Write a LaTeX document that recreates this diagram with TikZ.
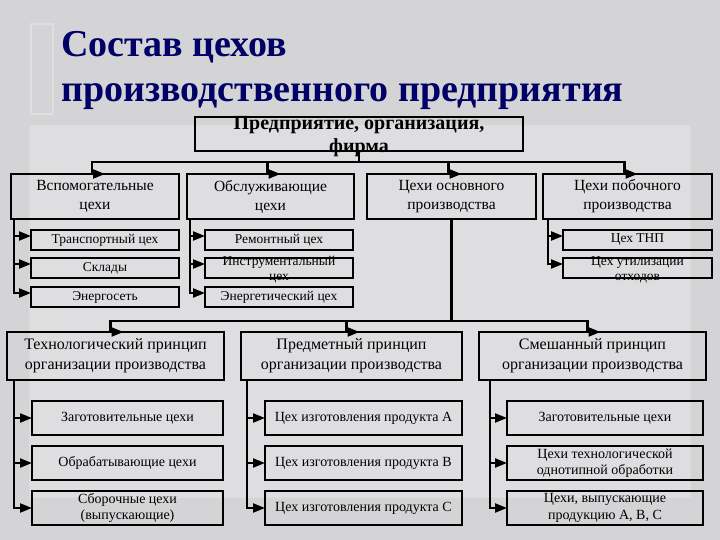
\documentclass[tikz,border=0pt]{standalone}
\usepackage{fontspec}
\setmainfont{Liberation Serif}
\usepackage{tikz}
\usetikzlibrary{calc,arrows.meta}
\definecolor{titre}{RGB}{0,0,102}
\definecolor{fond}{RGB}{212,212,215}
\tikzstyle{tete} = [rectangle, draw=black, line width=2.4pt, outer sep=0pt, inner sep=0pt, anchor=north west, align=center, font=\fontsize{20}{23}\selectfont\bfseries]
\tikzstyle{groupe} = [rectangle, draw=black, line width=2.4pt, outer sep=0pt, inner sep=1pt, anchor=north west, align=center, font=\fontsize{15.5}{19}\selectfont]
\tikzstyle{principe} = [rectangle, draw=black, line width=2.4pt, outer sep=0pt, inner sep=1pt, anchor=north west, align=center, font=\fontsize{16}{20}\selectfont]
\tikzstyle{petit} = [rectangle, draw=black, line width=2.2pt, outer sep=0pt, inner sep=1pt, anchor=north west, align=center, minimum height=20, font=\fontsize{13.5}{15}\selectfont]
\tikzstyle{atelier} = [rectangle, draw=black, line width=2.2pt, outer sep=0pt, inner sep=1pt, anchor=north west, align=center, minimum height=34, font=\fontsize{14}{16.5}\selectfont]
\tikzstyle{trait} = [line width=2.2pt]
\tikzstyle{fleche} = [line width=2.2pt, -{Triangle[length=12pt,width=9pt]}]
\tikzstyle{deco} = [draw=white!75!gray, line width=2pt]
\newcommand{\serre}[2]{\raisebox{#1}[0pt][0pt]{\begin{tabular}{@{}c@{}}#2\end{tabular}}}

\begin{document}
\begin{tikzpicture}[x=1pt, y=-1pt]

        \fill[fond] (0,0) rectangle (720,540);
        \useasboundingbox (0,0) rectangle (720,540);
        \fill[white, opacity=0.25] (30,126) rectangle (690,497);
        \draw[deco, opacity=0.8] (30,126) rectangle (690,497);
        \draw[deco] (31,24) rectangle (53,114);
        \draw[deco] (43,138) rectangle (54,486);

        \node (titre) [anchor=north west, inner sep=0pt, align=left, text=titre, font=\fontsize{38}{45}\selectfont\bfseries] at (61,31) {Состав цехов\\производственного предприятия};

        \node (T) [tete, minimum width=328, minimum height=34] at (195,117) {\serre{-8pt}{Предприятие, организация,\\фирма}};

        \node (A1) [groupe, minimum width=168, minimum height=45] at (11,174) {Вспомогательные\\цехи};
        \node (A2) [groupe, minimum width=167, minimum height=45] at (187,174) {Обслуживающие\\цехи};
        \node (A3) [groupe, minimum width=169, minimum height=45] at (367,174) {Цехи основного\\производства};
        \node (A4) [groupe, minimum width=169, minimum height=45] at (543,174) {Цехи побочного\\производства};

        \node (A11) [petit, minimum width=148] at (31,230) {Транспортный цех};
        \node (A12) [petit, minimum width=148] at (31,258) {Склады};
        \node (A13) [petit, minimum width=148] at (31,287) {Энергосеть};

        \node (A21) [petit, minimum width=148] at (205,230) {Ремонтный цех};
        \node (A22) [petit, minimum width=148] at (205,258) {\serre{-5.5pt}{Инструментальный\\цех}};
        \node (A23) [petit, minimum width=148] at (205,287) {Энергетический цех};

        \node (A41) [petit, minimum width=149] at (563,230) {Цех ТНП};
        \node (A42) [petit, minimum width=149] at (563,258) {\serre{-5.5pt}{Цех утилизации\\отходов}};

        \node (B1) [principe, minimum width=217, minimum height=48] at (7,332) {Технологический принцип\\организации производства};
        \node (B2) [principe, minimum width=221, minimum height=48] at (241,332) {Предметный принцип\\организации производства};
        \node (B3) [principe, minimum width=227, minimum height=48] at (479,332) {Смешанный принцип\\организации производства};

        \node (B11) [atelier, minimum width=191] at (32,401) {Заготовительные цехи};
        \node (B12) [atelier, minimum width=191] at (32,446) {Обрабатывающие цехи};
        \node (B13) [atelier, minimum width=191] at (32,491) {Сборочные цехи\\(выпускающие)};

        \node (B21) [atelier, minimum width=197] at (265,401) {Цех изготовления продукта А};
        \node (B22) [atelier, minimum width=197] at (265,446) {Цех изготовления продукта В};
        \node (B23) [atelier, minimum width=197] at (265,491) {Цех изготовления продукта С};

        \node (B31) [atelier, minimum width=196] at (507,401) {Заготовительные цехи};
        \node (B32) [atelier, minimum width=196] at (507,446) {Цехи технологической\\однотипной обработки};
        \node (B33) [atelier, minimum width=196] at (507,491) {Цехи, выпускающие\\продукцию А, В, С};


        \draw[trait] (T.south) -- ++(0,11) coordinate (t1);
        \draw[fleche] (t1) -| ([xshift=-3pt]A1.north) -- ++(13,0);
        \draw[fleche] (t1) -| ([xshift=-3pt]A2.north) -- ++(13,0);
        \draw[fleche] (t1) -| ([xshift=-3pt]A3.north) -- ++(13,0);
        \draw[fleche] (t1) -| ([xshift=-3pt]A4.north) -- ++(13,0);

        \draw[fleche] ([xshift=3pt]A1.south west) |- ([yshift=4pt]A11.west);
        \draw[fleche] ([xshift=3pt]A1.south west) |- ([yshift=4pt]A12.west);
        \draw[fleche] ([xshift=3pt]A1.south west) |- ([yshift=4pt]A13.west);

        \draw[fleche] ([xshift=3pt]A2.south west) |- ([yshift=4pt]A21.west);
        \draw[fleche] ([xshift=3pt]A2.south west) |- ([yshift=4pt]A22.west);
        \draw[fleche] ([xshift=3pt]A2.south west) |- ([yshift=4pt]A23.west);

        \draw[fleche] ([xshift=5pt]A4.south west) |- ([yshift=4pt]A41.west);
        \draw[fleche] ([xshift=5pt]A4.south west) |- ([yshift=4pt]A42.west);

        \draw[trait] (A3.south) -- ++(0,102) coordinate (t2);
        \draw[fleche] (t2) -| ([xshift=-5pt]B1.north) -- ++(13,0);
        \draw[fleche] (t2) -| ([xshift=-5pt]B2.north) -- ++(13,0);
        \draw[fleche] (t2) -| ([xshift=-5pt]B3.north) -- ++(13,0);

        \draw[fleche] ([xshift=7pt]B1.south west) |- (B11.west);
        \draw[fleche] ([xshift=7pt]B1.south west) |- (B12.west);
        \draw[fleche] ([xshift=7pt]B1.south west) |- (B13.west);

        \draw[fleche] ([xshift=6pt]B2.south west) |- (B21.west);
        \draw[fleche] ([xshift=6pt]B2.south west) |- (B22.west);
        \draw[fleche] ([xshift=6pt]B2.south west) |- (B23.west);

        \draw[fleche] ([xshift=11pt]B3.south west) |- (B31.west);
        \draw[fleche] ([xshift=11pt]B3.south west) |- (B32.west);
        \draw[fleche] ([xshift=11pt]B3.south west) |- (B33.west);

\end{tikzpicture}
\end{document}
